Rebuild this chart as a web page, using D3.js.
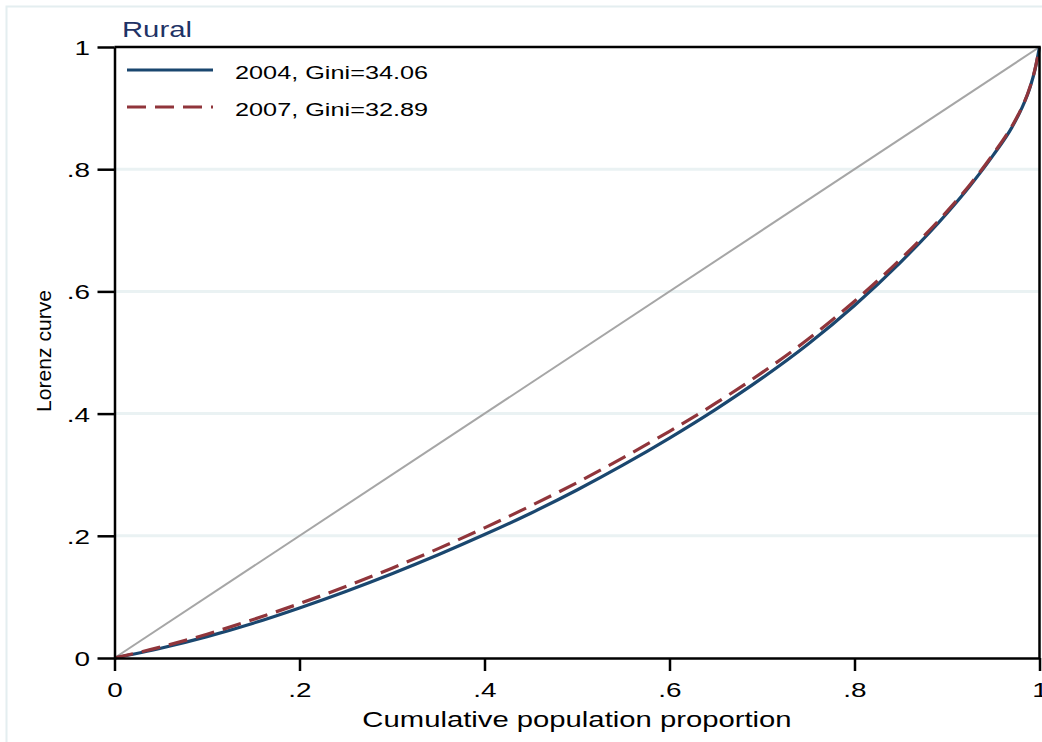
<!DOCTYPE html>
<html>
<head>
<meta charset="utf-8">
<script src="https://cdn.jsdelivr.net/npm/d3@7/dist/d3.min.js"></script>
<style>
  html, body { margin: 0; padding: 0; background: #ffffff; }
  svg { display: block; }
  text { font-family: "Liberation Sans", Arial, sans-serif; }
</style>
</head>
<body>
<svg id="chart" width="1042" height="742"></svg>
<script>
// ---- data ----
const title = "Rural";
const xTitle = "Cumulative population proportion";
const yTitle = "Lorenz curve";
const seriesNames = ["2004, Gini=34.06", "2007, Gini=32.89"];
const popShare = [0, 0.05, 0.1, 0.15, 0.2, 0.25, 0.3, 0.35, 0.4, 0.45, 0.5, 0.55, 0.6, 0.65, 0.7, 0.75, 0.8, 0.85, 0.9, 0.925, 0.95, 0.97, 0.98, 0.99, 0.995, 1];
const lorenz2004 = [0, 0.016, 0.035, 0.057, 0.082, 0.109, 0.138, 0.169, 0.202, 0.237, 0.275, 0.316, 0.360, 0.407, 0.458, 0.514, 0.577, 0.648, 0.728, 0.773, 0.823, 0.868, 0.897, 0.935, 0.962, 1];
const lorenz2007 = [0, 0.018, 0.039, 0.063, 0.089, 0.117, 0.147, 0.179, 0.213, 0.249, 0.287, 0.328, 0.371, 0.417, 0.467, 0.522, 0.584, 0.653, 0.731, 0.775, 0.825, 0.870, 0.898, 0.936, 0.963, 1];
const equality = [0, 1];
const xTicks = [0, 0.2, 0.4, 0.6, 0.8, 1];
const yTicks = [0, 0.2, 0.4, 0.6, 0.8, 1];
const gridTicks = [0.2, 0.4, 0.6, 0.8];

// ---- layout ----
const SX = 1.33; // horizontal stretch of the text in the reference
const svg = d3.select("#chart");
const x = d3.scaleLinear().domain([0, 1]).range([114.5, 1039.5]);
const y = d3.scaleLinear().domain([0, 1]).range([658, 47]);
const fmt = d => d === 0 ? "0" : d === 1 ? "1" : String(d).replace(/^0/, "");

svg.append("rect").attr("width", 1042).attr("height", 742).attr("fill", "#ffffff");

// outer frame (graph region border)
svg.append("path")
  .attr("d", "M6.5,760 L6.5,6.5 L1060,6.5")
  .attr("fill", "none").attr("stroke", "#e4eef0").attr("stroke-width", 2);

// gridlines
svg.append("g").selectAll("line").data(gridTicks).join("line")
  .attr("x1", x(0)).attr("x2", x(1))
  .attr("y1", d => y(d)).attr("y2", d => y(d))
  .attr("stroke", "#eaf2f3").attr("stroke-width", 3);

// equality line
const line = d3.line().x(d => x(d[0])).y(d => y(d[1]));
svg.append("path")
  .datum(equality.map((v, i) => [v, equality[i]]))
  .attr("d", line)
  .attr("fill", "none").attr("stroke", "#a6a6a6").attr("stroke-width", 2);

const curve = d3.line().x(d => x(d[0])).y(d => y(d[1])).curve(d3.curveMonotoneX);
svg.append("path")
  .datum(popShare.map((p, i) => [p, lorenz2004[i]]))
  .attr("d", curve)
  .attr("fill", "none").attr("stroke", "#1a476f").attr("stroke-width", 3.2);
svg.append("path")
  .datum(popShare.map((p, i) => [p, lorenz2007[i]]))
  .attr("d", curve)
  .attr("fill", "none").attr("stroke", "#90353b").attr("stroke-width", 3.2)
  .attr("stroke-dasharray", "19,9");

// plot border (top and right)
svg.append("path")
  .attr("d", `M${x(0)},${y(1)} L${x(1)},${y(1)} L${x(1)},${y(0)}`)
  .attr("fill", "none").attr("stroke", "#000").attr("stroke-width", 2.5);

// axes
const xAxis = svg.append("g").attr("transform", `translate(0,${y(0)})`)
  .call(d3.axisBottom(x).tickValues(xTicks).tickFormat(fmt).tickSize(13).tickSizeOuter(0));
const yAxis = svg.append("g").attr("transform", `translate(${x(0)},0)`)
  .call(d3.axisLeft(y).tickValues(yTicks).tickFormat(fmt).tickSize(17).tickSizeOuter(0));
[xAxis, yAxis].forEach(a => {
  a.select(".domain").attr("stroke", "#000").attr("stroke-width", 2.5);
  a.selectAll(".tick line").attr("stroke", "#000").attr("stroke-width", 2.5);
  a.selectAll(".tick text").attr("fill", "#000").attr("font-size", 21)
    .attr("font-family", "'Liberation Sans', Arial, sans-serif");
});
xAxis.selectAll(".tick text").attr("y", 39).attr("dy", 0)
  .attr("transform", `scale(${SX},1)`);
yAxis.selectAll(".tick text").attr("x", -24.5 / SX).attr("dy", "0.36em")
  .attr("transform", `scale(${SX},1)`);

// texts
function addText(px, py, str, anchor, size, fill) {
  svg.append("g").attr("transform", `translate(${px},${py}) scale(${SX},1)`)
    .append("text").attr("text-anchor", anchor).attr("font-size", size)
    .attr("fill", fill).text(str);
}
addText(122, 37, title, "start", 22, "#1f3366");
addText(577, 727, xTitle, "middle", 22, "#000");

svg.append("g").attr("transform", "translate(51,351) scale(1.05,1) rotate(-90)")
  .append("text").attr("text-anchor", "middle").attr("font-size", 20)
  .attr("textLength", 122).attr("lengthAdjust", "spacingAndGlyphs")
  .attr("fill", "#000").text(yTitle);

// legend
const legendColors = ["#1a476f", "#90353b"];
const legendDash = [null, "19,9"];
const legendY = [70, 107];
seriesNames.forEach((name, i) => {
  svg.append("line")
    .attr("x1", 127).attr("x2", 213).attr("y1", legendY[i]).attr("y2", legendY[i])
    .attr("stroke", legendColors[i]).attr("stroke-width", 3)
    .attr("stroke-dasharray", legendDash[i]);
  addText(235, legendY[i] + 9, name, "start", 19, "#000");
});
</script>
</body>
</html>
